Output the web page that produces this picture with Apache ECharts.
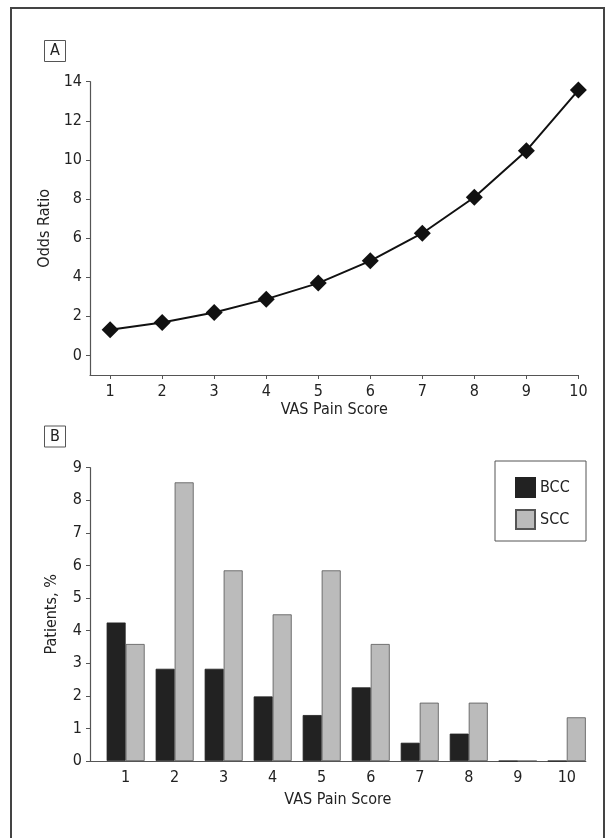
<!DOCTYPE html>
<html>
<head>
<meta charset="utf-8">
<script src="https://cdn.jsdelivr.net/npm/echarts@6/dist/echarts.min.js"></script>
<style>
html,body{margin:0;padding:0;background:#fff;}
#chart{width:607px;height:838px;}
</style>
</head>
<body>
<div id="chart"></div>
<script>
var scores = [1, 2, 3, 4, 5, 6, 7, 8, 9, 10];
var oddsRatio = [1.31, 1.69, 2.20, 2.88, 3.70, 4.84, 6.25, 8.09, 10.47, 13.57];
var bccPct = [4.25, 2.83, 2.83, 1.98, 1.41, 2.26, 0.56, 0.84, 0, 0];
var sccPct = [3.59, 8.55, 5.85, 4.50, 5.85, 3.59, 1.79, 1.79, 0, 1.34];
var yTicksA = [0, 2, 4, 6, 8, 10, 12, 14];

var FONT = '"Liberation Sans Narrow", "DejaVu Sans Condensed", "Roboto", sans-serif';
var AX = '#555';
var TXT = '#222';

function pairs(xs, ys) { return xs.map(function (x, i) { return [x, ys[i]]; }); }

var chart = echarts.init(document.getElementById('chart'), null, {renderer: 'canvas'});
var option = {
  animation: false,
  backgroundColor: '#fff',
  textStyle: {fontFamily: FONT},
  grid: [
    {left: 90, right: 28.6, top: 81.7, height: 293.3},
    {left: 90, right: 21.2, top: 467.7, height: 293.3}
  ],
  xAxis: [
    {
      gridIndex: 0, type: 'value', min: 0.613, max: 10,
      name: 'VAS Pain Score', nameLocation: 'middle', nameGap: 27,
      nameTextStyle: {fontFamily: FONT, fontSize: 16, color: TXT},
      axisLine: {show: true, onZero: false, lineStyle: {color: AX, width: 1.2}},
      axisTick: {show: true, length: 4, inside: false, customValues: scores, lineStyle: {color: AX}},
      axisLabel: {customValues: scores, margin: 9, fontFamily: FONT, fontSize: 16, color: TXT},
      splitLine: {show: false}
    },
    {
      gridIndex: 1, type: 'value', min: 0.273, max: 10.388,
      name: 'VAS Pain Score', nameLocation: 'middle', nameGap: 31,
      nameTextStyle: {fontFamily: FONT, fontSize: 16, color: TXT},
      axisLine: {show: true, onZero: false, lineStyle: {color: AX, width: 1.2}},
      axisTick: {show: false},
      axisLabel: {customValues: scores, margin: 9, fontFamily: FONT, fontSize: 16, color: TXT},
      splitLine: {show: false}
    }
  ],
  yAxis: [
    {
      gridIndex: 0, type: 'value', min: -1, max: 14,
      name: 'Odds Ratio', nameLocation: 'middle', nameGap: 30,
      nameTextStyle: {fontFamily: FONT, fontSize: 16, color: TXT},
      axisLine: {show: true, onZero: false, lineStyle: {color: AX, width: 1.2}},
      axisTick: {show: true, length: 4, customValues: yTicksA, lineStyle: {color: AX}},
      axisLabel: {customValues: yTicksA, margin: 8, fontFamily: FONT, fontSize: 16, color: TXT},
      splitLine: {show: false}
    },
    {
      gridIndex: 1, type: 'value', min: 0, max: 9, interval: 1,
      name: 'Patients, %', nameLocation: 'middle', nameGap: 30,
      nameTextStyle: {fontFamily: FONT, fontSize: 16, color: TXT},
      axisLine: {show: true, onZero: false, lineStyle: {color: AX, width: 1.2}},
      axisTick: {show: true, length: 4, lineStyle: {color: AX}},
      axisLabel: {margin: 8, fontFamily: FONT, fontSize: 16, color: TXT},
      splitLine: {show: false}
    }
  ],
  legend: {
    orient: 'vertical', left: 515, top: 477,
    itemWidth: 19, itemHeight: 19, itemGap: 11,
    icon: 'rect',
    data: ['BCC', 'SCC'],
    textStyle: {fontFamily: FONT, fontSize: 16, color: TXT},
    padding: 0
  },
  series: [
    {
      type: 'line', xAxisIndex: 0, yAxisIndex: 0,
      data: pairs(scores, oddsRatio),
      symbol: 'diamond', symbolSize: 17,
      lineStyle: {color: '#111', width: 2},
      itemStyle: {color: '#111'}
    },
    {
      name: 'BCC', type: 'bar', xAxisIndex: 1, yAxisIndex: 1,
      data: pairs(scores, bccPct),
      barWidth: 19, barGap: '0%',
      itemStyle: {color: '#222', borderColor: '#222', borderWidth: 0.8}
    },
    {
      name: 'SCC', type: 'bar', xAxisIndex: 1, yAxisIndex: 1,
      data: pairs(scores, sccPct),
      barWidth: 19, barGap: '0%',
      itemStyle: {color: '#bbbbbb', borderColor: '#555', borderWidth: 0.8}
    }
  ],
  graphic: [
    {type: 'rect', shape: {x: 11, y: 8, width: 593, height: 860}, style: {fill: 'none', stroke: '#444', lineWidth: 2}, silent: true},
    {type: 'rect', shape: {x: 44.5, y: 40.5, width: 21, height: 21}, style: {fill: '#fff', stroke: '#555', lineWidth: 1}},
    {type: 'text', x: 55, y: 51, style: {text: 'A', fontFamily: FONT, fontSize: 16, fill: TXT, align: 'center', verticalAlign: 'middle'}},
    {type: 'rect', shape: {x: 44.5, y: 426, width: 21, height: 21}, style: {fill: '#fff', stroke: '#555', lineWidth: 1}},
    {type: 'text', x: 55, y: 436.5, style: {text: 'B', fontFamily: FONT, fontSize: 16, fill: TXT, align: 'center', verticalAlign: 'middle'}},
    {type: 'rect', shape: {x: 495, y: 461, width: 91, height: 80}, style: {fill: 'none', stroke: '#555', lineWidth: 1}}
  ]
};
chart.setOption(option);
</script>
</body>
</html>
